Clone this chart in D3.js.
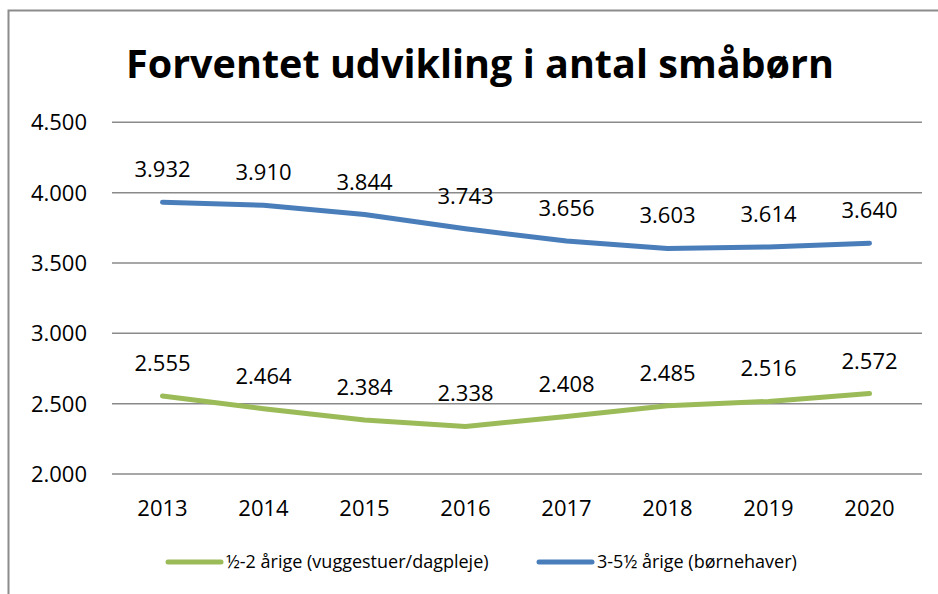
<!DOCTYPE html>
<html>
<head>
<meta charset="utf-8">
<script src="https://cdn.jsdelivr.net/npm/d3@7"></script>
<style>
  body { margin: 0; background: #fff; }
  text { font-family: "Open Sans", "Noto Sans", sans-serif; fill: #000; }
</style>
</head>
<body>
<svg id="chart"></svg>
<script>
const years = ["2013", "2014", "2015", "2016", "2017", "2018", "2019", "2020"];
const small = [2555, 2464, 2384, 2338, 2408, 2485, 2516, 2572];   // ½-2 årige
const older = [3932, 3910, 3844, 3743, 3656, 3603, 3614, 3640];   // 3-5½ årige
const yTicks = [2000, 2500, 3000, 3500, 4000, 4500];
const seriesNames = ["½-2 årige (vuggestuer/dagpleje)", "3-5½ årige (børnehaver)"];
const colors = ["#9bbb59", "#4a7ebb"];

const width = 938, height = 594;
const svg = d3.select("#chart").attr("width", width).attr("height", height);

// chart frame
svg.append("rect")
  .attr("x", 8.5).attr("y", 10.5)
  .attr("width", 960).attr("height", 620)
  .attr("fill", "none").attr("stroke", "#8c8c8c").attr("stroke-width", 2);

svg.append("text")
  .attr("x", 480).attr("y", 78)
  .attr("text-anchor", "middle")
  .attr("font-weight", "bold")
  .attr("font-size", 40)
  .attr("textLength", 708)
  .attr("lengthAdjust", "spacingAndGlyphs")
  .text("Forventet udvikling i antal småbørn");

const x = d3.scaleBand().domain(years).range([112, 920]);
const y = d3.scaleLinear().domain([2000, 4500]).range([474, 122.3]);
const fmt = d3.formatLocale({ decimal: ",", thousands: ".", grouping: [3], currency: ["", ""] }).format(",d");

// gridlines
svg.append("g").selectAll("line")
  .data(yTicks).enter().append("line")
  .attr("x1", 112).attr("x2", 922)
  .attr("y1", d => y(d)).attr("y2", d => y(d))
  .attr("stroke", "#8a8a8a").attr("stroke-width", 1.5);

// y axis labels
svg.append("g").selectAll("text")
  .data(yTicks).enter().append("text")
  .attr("x", 87).attr("y", d => y(d) + 8)
  .attr("text-anchor", "end")
  .attr("font-size", 22)
  .text(d => fmt(d));

// x axis labels
svg.append("g").selectAll("text")
  .data(years).enter().append("text")
  .attr("x", d => x(d) + x.bandwidth() / 2).attr("y", 516)
  .attr("text-anchor", "middle")
  .attr("font-size", 22)
  .text(d => d);

const line = d3.line()
  .x((d, i) => x(years[i]) + x.bandwidth() / 2)
  .y(d => y(d));

[small, older].forEach((vals, s) => {
  svg.append("path")
    .datum(vals)
    .attr("d", line)
    .attr("fill", "none")
    .attr("stroke", colors[s])
    .attr("stroke-width", 5)
    .attr("stroke-linecap", "round")
    .attr("stroke-linejoin", "round");

  svg.append("g").selectAll("text")
    .data(vals).enter().append("text")
    .attr("x", (d, i) => x(years[i]) + x.bandwidth() / 2)
    .attr("y", d => y(d) - 25)
    .attr("text-anchor", "middle")
    .attr("font-size", 22)
    .text(d => fmt(d));
});

// legend
const legendPos = [168, 539];
seriesNames.forEach((name, i) => {
  const g = svg.append("g").attr("transform", `translate(${legendPos[i]}, 562)`);
  g.append("line")
    .attr("x1", 0).attr("x2", 53)
    .attr("stroke", colors[i]).attr("stroke-width", 5)
    .attr("stroke-linecap", "round");
  g.append("text")
    .attr("x", 58).attr("y", 6)
    .attr("font-size", 18)
    .text(name);
});
</script>
</body>
</html>
